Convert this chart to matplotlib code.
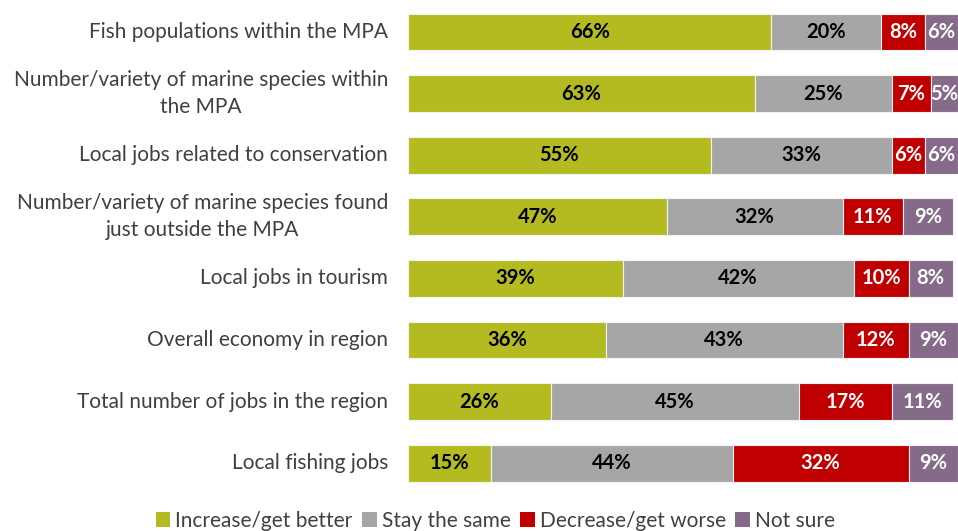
import matplotlib
matplotlib.use("Agg")
import matplotlib.pyplot as plt
from matplotlib.patches import Patch
from matplotlib.transforms import offset_copy

categories = [
    "Fish populations within the MPA",
    "Number/variety of marine species within\nthe MPA",
    "Local jobs related to conservation",
    "Number/variety of marine species found\njust outside the MPA",
    "Local jobs in tourism",
    "Overall economy in region",
    "Total number of jobs in the region",
    "Local fishing jobs",
]
series_names = ["Increase/get better", "Stay the same", "Decrease/get worse", "Not sure"]
increase = [66, 63, 55, 47, 39, 36, 26, 15]
same = [20, 25, 33, 32, 42, 43, 45, 44]
decrease = [8, 7, 6, 11, 10, 12, 17, 32]
notsure = [6, 5, 6, 9, 8, 9, 11, 9]

colors = ["#b3bb21", "#a6a6a6", "#c00000", "#866a8a"]
text_colors = ["black", "black", "white", "white"]

plt.rcParams['font.family'] = ['Lato', 'DejaVu Sans']

fig = plt.figure(figsize=(9.58, 5.31), dpi=100)
ax = fig.add_axes([0.426, 0.0697, 0.574, 0.928])

ypos = list(range(len(categories)))
left = [0] * len(categories)
for vals, col, tc in zip([increase, same, decrease, notsure], colors, text_colors):
    ax.barh(ypos, vals, left=left, height=0.6, color=col, edgecolor="#f2f2f2", linewidth=0.8)
    for i, v in enumerate(vals):
        ax.text(left[i] + v / 2, ypos[i], f"{v}%", ha="center", va="center",
                color=tc, fontsize=14.5, fontweight="bold")
    left = [l + v for l, v in zip(left, vals)]

ax.set_xlim(0, 100)
ax.set_ylim(len(categories) - 0.5, -0.5)
ax.set_yticks(ypos)
ax.set_yticklabels([])
ax.tick_params(axis="y", length=0)
ax.set_xticks([])
for s in ax.spines.values():
    s.set_visible(False)

trans_off = offset_copy(ax.get_yaxis_transform(), fig=fig, x=-20, y=0, units="dots")
for y, cat in zip(ypos, categories):
    ax.text(0, y, cat, transform=trans_off, ha="right", va="center",
            multialignment="center", fontsize=15, color="#404040", linespacing=1.45)

handles = [Patch(facecolor=c) for c in colors]
fig.legend(handles, series_names, loc="center", bbox_to_anchor=(0.517, 0.019), ncol=4,
           frameon=False, fontsize=15, handlelength=0.7, handleheight=0.7,
           handletextpad=0.25, columnspacing=0.45, labelcolor="#404040")

fig.savefig("out.png", dpi=100)
